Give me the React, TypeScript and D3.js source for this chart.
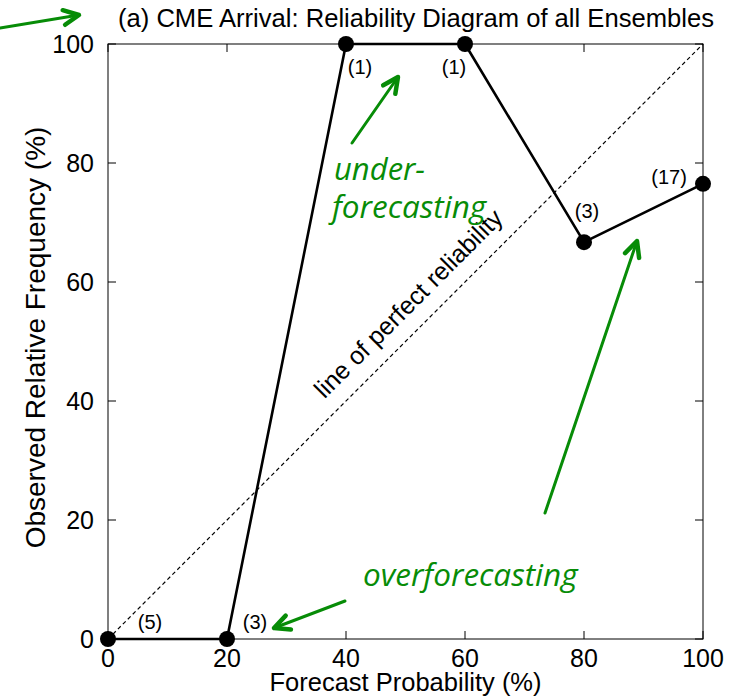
import * as d3 from 'd3';
import { useMemo } from 'react';

const forecastProb = [0, 20, 40, 60, 80, 100];
const observedFreq = [0, 0, 100, 100, 66.7, 76.5];
const counts = [5, 3, 1, 1, 3, 17];
const xTicks = [0, 20, 40, 60, 80, 100];
const yTicks = [0, 20, 40, 60, 80, 100];

// where each count label sits relative to its point (px)
const labelOffsets = [
  [42, -10],
  [28, -10],
  [14, 30],
  [-11, 30],
  [3, -24],
  [-34, 0],
];

const GREEN = '#078c07';
const FONT = '"Liberation Sans", Arial, sans-serif';
const GFONT = '"Open Sans", "Liberation Sans", sans-serif';

function Arrow({ x1, y1, x2, y2 }: { x1: number; y1: number; x2: number; y2: number }) {
  const a = Math.atan2(y2 - y1, x2 - x1);
  const len = 17;
  const spread = 0.45;
  const p1 = [x2 - len * Math.cos(a - spread), y2 - len * Math.sin(a - spread)];
  const p2 = [x2 - len * Math.cos(a + spread), y2 - len * Math.sin(a + spread)];
  return (
    <g stroke={GREEN} fill="none" strokeLinecap="round" strokeLinejoin="round">
      <line x1={x1} y1={y1} x2={x2} y2={y2} strokeWidth={3} />
      <path d={`M${p1[0]},${p1[1]} L${x2},${y2} L${p2[0]},${p2[1]}`} strokeWidth={4.5} />
    </g>
  );
}

export default function App() {
  const width = 744;
  const height = 698;
  const margin = { top: 44, right: 41, bottom: 59, left: 108 };
  const boundsWidth = width - margin.left - margin.right;
  const boundsHeight = height - margin.top - margin.bottom;

  const xScale = useMemo(() => d3.scaleLinear().domain([0, 100]).range([0, boundsWidth]), [boundsWidth]);
  const yScale = useMemo(() => d3.scaleLinear().domain([0, 100]).range([boundsHeight, 0]), [boundsHeight]);

  const data = forecastProb.map((p, i) => ({ x: p, y: observedFreq[i], n: counts[i] }));
  const line = d3.line<{ x: number; y: number }>().x(d => xScale(d.x)).y(d => yScale(d.y));

  const tick = 8;

  return (
    <svg width={width} height={height} style={{ position: 'absolute', left: 0, top: 0 }} fontFamily={FONT}>
      <rect width={width} height={height} fill="white" />
      <text x={118} y={27} fontSize={25.6}>(a) CME Arrival: Reliability Diagram of all Ensembles</text>
      <Arrow x1={0} y1={28} x2={79} y2={15} />

      <g transform={`translate(${margin.left},${margin.top})`}>
        {/* perfect reliability */}
        <line x1={xScale(0)} y1={yScale(0)} x2={xScale(100)} y2={yScale(100)}
          stroke="black" strokeWidth={1.2} strokeDasharray="4,3" />
        <text transform={`translate(${xScale(50) + 9},${yScale(50) - 32}) rotate(-45)`}
          textAnchor="middle" fontSize={25}>line of perfect reliability</text>

        {/* frame */}
        <rect x={0} y={0} width={boundsWidth} height={boundsHeight} fill="none" stroke="black" strokeWidth={1} />

        {xTicks.map(t => (
          <g key={`x${t}`}>
            <line x1={xScale(t)} x2={xScale(t)} y1={boundsHeight} y2={boundsHeight - tick} stroke="black" />
            <line x1={xScale(t)} x2={xScale(t)} y1={0} y2={tick} stroke="black" />
            <text x={xScale(t)} y={boundsHeight + 28} textAnchor="middle" fontSize={25}>{t}</text>
          </g>
        ))}
        {yTicks.map(t => (
          <g key={`y${t}`}>
            <line x1={0} x2={tick} y1={yScale(t)} y2={yScale(t)} stroke="black" />
            <line x1={boundsWidth} x2={boundsWidth - tick} y1={yScale(t)} y2={yScale(t)} stroke="black" />
            <text x={-14} y={yScale(t) + 9} textAnchor="end" fontSize={25}>{t}</text>
          </g>
        ))}

        <text x={boundsWidth / 2} y={boundsHeight + 52} textAnchor="middle" fontSize={25.5}>Forecast Probability (%)</text>
        <text transform={`translate(${-63},${boundsHeight / 2 - 4}) rotate(-90)`} textAnchor="middle" fontSize={28}>
          Observed Relative Frequency (%)
        </text>

        {/* reliability curve */}
        <path d={line(data) ?? ''} fill="none" stroke="black" strokeWidth={2.6} strokeLinejoin="round" />
        {data.map((d, i) => (
          <g key={i}>
            <circle cx={xScale(d.x)} cy={yScale(d.y)} r={8} fill="black" />
            <text x={xScale(d.x) + labelOffsets[i][0]} y={yScale(d.y) + labelOffsets[i][1]}
              textAnchor="middle" fontSize={20}>({d.n})</text>
          </g>
        ))}
      </g>

      {/* annotations */}
      <Arrow x1={352} y1={143} x2={398} y2={77} />
      <text x={334} y={180} fill={GREEN} fontFamily={GFONT} fontStyle="italic" fontSize={31}>under-</text>
      <text x={332} y={218} fill={GREEN} fontFamily={GFONT} fontStyle="italic" fontSize={31.5}>forecasting</text>
      <text x={363} y={586} fill={GREEN} fontFamily={GFONT} fontStyle="italic" fontSize={31.5}>overforecasting</text>
      <Arrow x1={345} y1={601} x2={274} y2={628} />
      <Arrow x1={545} y1={513} x2={637} y2={241} />
    </svg>
  );
}
